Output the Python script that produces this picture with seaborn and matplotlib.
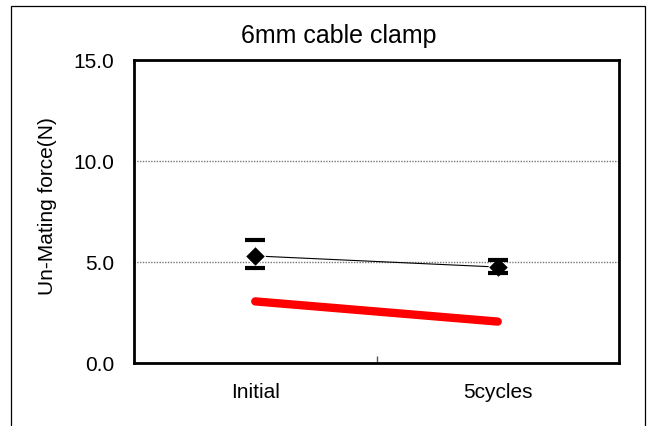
import matplotlib
matplotlib.use("Agg")
import matplotlib.pyplot as plt
from matplotlib.patches import Rectangle
import seaborn as sns
import pandas as pd

categories = ["Initial", "5cycles"]
mean_force = [5.3, 4.75]
err_low = [4.7, 4.45]
err_high = [6.1, 5.1]
spec_line = [3.05, 2.05]
title = "6mm cable clamp"
ylabel = "Un-Mating force(N)"
yticks = [0, 5, 10, 15]

sns.set_theme(style="white")
plt.rcParams['font.family'] = ['Liberation Sans', 'DejaVu Sans']
plt.rcParams['text.color'] = 'black'
plt.rcParams['axes.labelcolor'] = 'black'
plt.rcParams['xtick.color'] = 'black'
plt.rcParams['ytick.color'] = 'black'

df = pd.DataFrame({"cat": categories, "mean": mean_force, "lo": err_low,
                   "hi": err_high, "spec": spec_line})

fig = plt.figure(figsize=(6.49, 4.27), dpi=100)
ax = fig.add_axes([134/649, 1-364/427, (619-134)/649, (364-61)/427])

# outer frame
fig.patches.append(Rectangle((11/649, -0.2), (645-11)/649, 1.2-7/427,
                             transform=fig.transFigure, fill=False,
                             edgecolor="black", linewidth=0.9, zorder=0))

# red line
sns.lineplot(data=df, x="cat", y="spec", ax=ax, color="#ff0000",
             linewidth=6, solid_capstyle="round", sort=False, zorder=3)

# mean line with diamonds
sns.lineplot(data=df, x="cat", y="mean", ax=ax, color="black",
             linewidth=0.8, marker="D", markersize=10, sort=False, zorder=4)

# error bar caps
ax.errorbar(df["cat"], df["mean"],
            yerr=[df["mean"] - df["lo"], df["hi"] - df["mean"]],
            fmt="none", ecolor="black", elinewidth=0, capsize=7,
            capthick=3, zorder=5)

ax.set_xlim(-0.5, 1.5)
ax.set_ylim(0, 15)
ax.set_yticks(yticks)
ax.set_yticklabels([f"{v:.1f}" for v in yticks])
ax.set_xticks([0, 1])
ax.set_xticklabels(categories)
ax.set_xticks([0.5], minor=True)
ax.tick_params(axis="x", which="major", length=0, pad=14, labelsize=15,
               labelcolor="black")
ax.tick_params(axis="x", which="minor", length=5, width=1, direction="in",
               color="#555555", bottom=True)
ax.tick_params(axis="y", length=0, pad=14, labelsize=15, labelcolor="black")
ax.yaxis.grid(True, linestyle=(0, (1, 1)), color="#777777", linewidth=1)
ax.set_axisbelow(True)
for s in ax.spines.values():
    s.set_visible(True)
    s.set_color("black")
    s.set_linewidth(2)
ax.set_xlabel("")
ax.set_ylabel(ylabel, fontsize=15, color="black")
ax.yaxis.set_label_coords(-(134-57)/485, 0.52)
fig.text(339/649, 1-36/427, title, ha="center", va="center", fontsize=18,
         color="black")

fig.savefig("out.png", dpi=100)
